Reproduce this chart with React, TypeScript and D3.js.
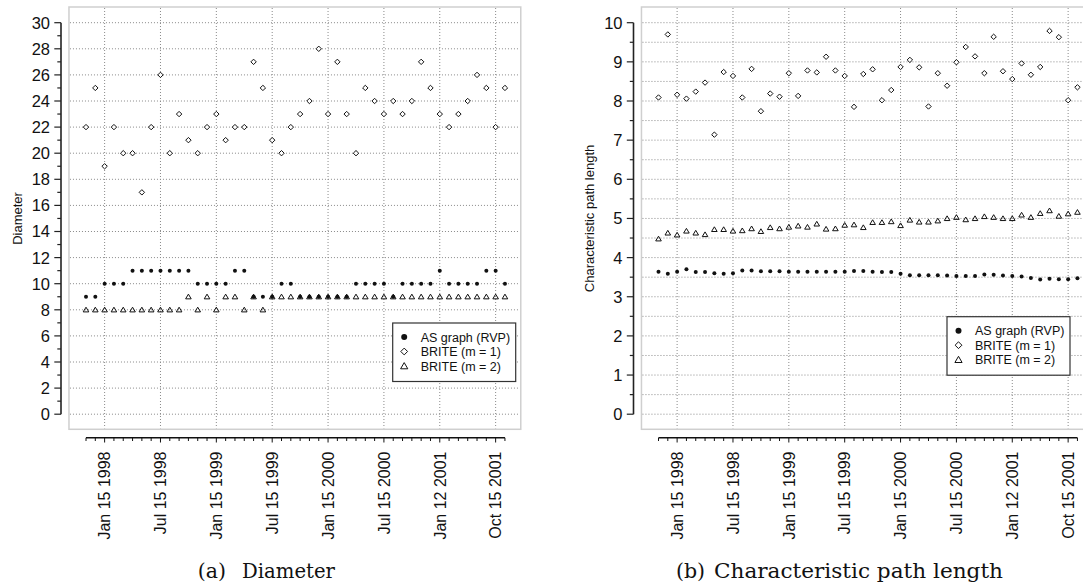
import React from 'react'
import * as d3 from 'd3'

// x axis is sample index (46 snapshots); every 6th one is labelled
const tickIdx = [2, 8, 14, 20, 26, 32, 38, 44]
const tickLabels = ['Jan 15 1998', 'Jul 15 1998', 'Jan 15 1999', 'Jul 15 1999',
  'Jan 15 2000', 'Jul 15 2000', 'Jan 12 2001', 'Oct 15 2001']

const seriesNames = ['AS graph (RVP)', 'BRITE (m = 1)', 'BRITE (m = 2)']

// (a) diameter
const diamAS = [9, 9, 10, 10, 10, 11, 11, 11, 11, 11, 11, 11, 10, 10, 10, 10, 11, 11, 9, 9,
  9, 10, 10, 9, 9, 9, 9, 9, 9, 10, 10, 10, 10, 9, 10, 10, 10, 10, 11, 10, 10, 10, 10, 11, 11, 10]
const diamBrite1 = [22, 25, 19, 22, 20, 20, 17, 22, 26, 20, 23, 21, 20, 22, 23, 21, 22, 22, 27, 25,
  21, 20, 22, 23, 24, 28, 23, 27, 23, 20, 25, 24, 23, 24, 23, 24, 27, 25, 23, 22, 23, 24, 26, 25, 22, 25]
const diamBrite2 = [8, 8, 8, 8, 8, 8, 8, 8, 8, 8, 8, 9, 8, 9, 8, 9, 9, 8, 9, 8,
  9, 9, 9, 9, 9, 9, 9, 9, 9, 9, 9, 9, 9, 9, 9, 9, 9, 9, 9, 9, 9, 9, 9, 9, 9, 9]

// (b) characteristic path length
const cplAS = [3.64, 3.59, 3.64, 3.70, 3.63, 3.63, 3.60, 3.59, 3.60, 3.67, 3.67, 3.65, 3.65, 3.65, 3.64,
  3.64, 3.64, 3.64, 3.64, 3.64, 3.64, 3.66, 3.66, 3.64, 3.63, 3.63, 3.59, 3.55, 3.55, 3.55, 3.55,
  3.54, 3.53, 3.53, 3.53, 3.57, 3.56, 3.54, 3.53, 3.52, 3.48, 3.44, 3.46, 3.45, 3.45, 3.47]
const cplBrite1 = [8.09, 9.70, 8.16, 8.06, 8.24, 8.47, 7.14, 8.74, 8.64, 8.09, 8.82, 7.74, 8.19, 8.11,
  8.71, 8.13, 8.78, 8.73, 9.13, 8.78, 8.64, 7.85, 8.69, 8.81, 8.02, 8.28, 8.87, 9.05, 8.86, 7.86,
  8.71, 8.39, 8.99, 9.38, 9.14, 8.71, 9.64, 8.76, 8.56, 8.96, 8.67, 8.87, 9.79, 9.63, 8.02, 8.35]
const cplBrite2 = [4.48, 4.63, 4.58, 4.68, 4.63, 4.59, 4.72, 4.72, 4.68, 4.69, 4.74, 4.67, 4.77, 4.74,
  4.78, 4.81, 4.78, 4.86, 4.73, 4.74, 4.83, 4.84, 4.77, 4.90, 4.90, 4.92, 4.82, 4.96, 4.91, 4.91,
  4.94, 5.00, 5.03, 4.97, 5.00, 5.05, 5.03, 5.00, 5.00, 5.09, 5.03, 5.13, 5.20, 5.06, 5.12, 5.16]

const SANS = '"Liberation Sans", Arial, Helvetica, sans-serif'
const SERIF = '"DejaVu Serif", serif'
const GRID = '#8a8a8a'

const diamondPath = 'M0,-2.7L2.7,0L0,2.7L-2.7,0Z'
const trianglePath = 'M0,-2.6L2.8,2.1L-2.8,2.1Z'

function Panel({ ox, yMax, yMajor, yMinor, gridStep, title, as, b1, b2, legendX, legendY }) {
  const axisX = ox + 61
  const x = d3.scaleLinear().domain([0, 45]).range([ox + 86, ox + 86 + 45 * 9.31])
  const y = d3.scaleLinear().domain([0, yMax]).range([414.2, 22.7])
  const frameL = x(-1.83), frameR = x(46.7), frameT = 7, frameB = 429.3
  const gridVals = d3.range(0, yMax + 1e-9, gridStep)
  const majors = d3.range(0, yMax + 1e-9, yMajor)
  const minors = d3.range(0, yMax + 1e-9, yMinor).filter(v => !majors.some(m => Math.abs(m - v) < 1e-9))
  const idx = d3.range(0, 46)
  const fmt = d3.format('d')

  return (
    <g>
      {/* frame + grid */}
      <rect x={frameL} y={frameT} width={frameR - frameL} height={frameB - frameT}
        fill="#fff" stroke="#cfcfcf" strokeWidth={1.5} />
      {gridVals.map(v => (
        <line key={'h' + v} x1={frameL + 1} x2={frameR - 1} y1={y(v)} y2={y(v)}
          stroke={GRID} strokeWidth={1} strokeDasharray="1,2" />
      ))}
      {tickIdx.map(i => (
        <line key={'v' + i} x1={x(i)} x2={x(i)} y1={frameT + 1} y2={frameB - 1}
          stroke={GRID} strokeWidth={1} strokeDasharray="1,2" />
      ))}

      {/* y axis */}
      <line x1={axisX} x2={axisX} y1={y(yMax)} y2={y(0)} stroke="#222" strokeWidth={1.6} />
      {majors.map(v => (
        <g key={'ym' + v}>
          <line x1={axisX - 6.7} x2={axisX} y1={y(v)} y2={y(v)} stroke="#222" strokeWidth={1.2} />
          <text x={axisX - 11} y={y(v)} dy="0.36em" textAnchor="end" fontSize={16.5}
            fontFamily={SANS} fill="#111">{fmt(v)}</text>
        </g>
      ))}
      {minors.map(v => (
        <line key={'yn' + v} x1={axisX - 3.7} x2={axisX} y1={y(v)} y2={y(v)} stroke="#222" strokeWidth={1.2} />
      ))}
      <text transform={`translate(${axisX - 44},${(y(0) + y(yMax)) / 2}) rotate(-90)`}
        textAnchor="middle" dy="0.35em" fontSize={13} fontFamily={SANS} fill="#111">{title}</text>

      {/* x axis */}
      <line x1={x(0)} x2={x(45)} y1={437.8} y2={437.8} stroke="#111" strokeWidth={1.6} />
      {idx.map(i => (
        <line key={'xt' + i} x1={x(i)} x2={x(i)} y1={437.8}
          y2={tickIdx.includes(i) ? 442.5 : 441} stroke="#111" strokeWidth={1} />
      ))}
      {tickIdx.map((i, k) => (
        <text key={'xl' + i} transform={`translate(${x(i)},451.5) rotate(-90)`}
          textAnchor="end" dy="0.36em" fontSize={16} fontFamily={SANS} fill="#111">{tickLabels[k]}</text>
      ))}

      {/* marks */}
      {b1.map((v, i) => (
        <path key={'d' + i} d={diamondPath} transform={`translate(${x(i)},${y(v)})`}
          fill="#fff" stroke="#111" strokeWidth={1} />
      ))}
      {b2.map((v, i) => (
        <path key={'t' + i} d={trianglePath} transform={`translate(${x(i)},${y(v)})`}
          fill="none" stroke="#111" strokeWidth={1} />
      ))}
      {as.map((v, i) => (
        <circle key={'c' + i} cx={x(i)} cy={y(v)} r={2} fill="#111" />
      ))}

      {/* legend */}
      <g transform={`translate(${ox + legendX},${legendY})`}>
        <rect x={0} y={0} width={123} height={58.5} fill="#fff" stroke="#333" strokeWidth={1.2} />
        {seriesNames.map((s, k) => (
          <g key={s} transform={`translate(0,${14 + k * 14.5})`}>
            {k === 0 && <circle cx={11.5} cy={0} r={3} fill="#111" />}
            {k === 1 && <path d="M0,-3.4L3.4,0L0,3.4L-3.4,0Z" transform="translate(11.5,0)" fill="#fff" stroke="#111" strokeWidth={1} />}
            {k === 2 && <path d="M0,-3.4L3.6,2.8L-3.6,2.8Z" transform="translate(11.5,0)" fill="#fff" stroke="#111" strokeWidth={1} />}
            <text x={28} y={0} dy="0.36em" fontSize={12.5} fontFamily={SANS} fill="#111">{s}</text>
          </g>
        ))}
      </g>
    </g>
  )
}

export default function App() {
  return (
    <svg width={1083} height={584} style={{ position: 'absolute', left: 0, top: 0, background: '#fff' }}>
      <rect width={1083} height={584} fill="#fff" />
      <Panel ox={0} yMax={30} yMajor={2} yMinor={1} gridStep={2} title="Diameter"
        as={diamAS} b1={diamBrite1} b2={diamBrite2} legendX={392.7} legendY={323} />
      <Panel ox={572.5} yMax={10} yMajor={1} yMinor={0.5} gridStep={0.5} title="Characteristic path length"
        as={cplAS} b1={cplBrite1} b2={cplBrite2} legendX={374.5} legendY={316.7} />
      <text y={578} fontSize={20.5} fontFamily={SERIF} fill="#111">
        <tspan x={197.7}>(a)</tspan>
        <tspan x={242} textLength={93} lengthAdjust="spacingAndGlyphs">Diameter</tspan>
      </text>
      <text y={578} fontSize={20.5} fontFamily={SERIF} fill="#111">
        <tspan x={676}>(b)</tspan>
        <tspan x={714} textLength={289} lengthAdjust="spacingAndGlyphs">Characteristic path length</tspan>
      </text>
    </svg>
  )
}
